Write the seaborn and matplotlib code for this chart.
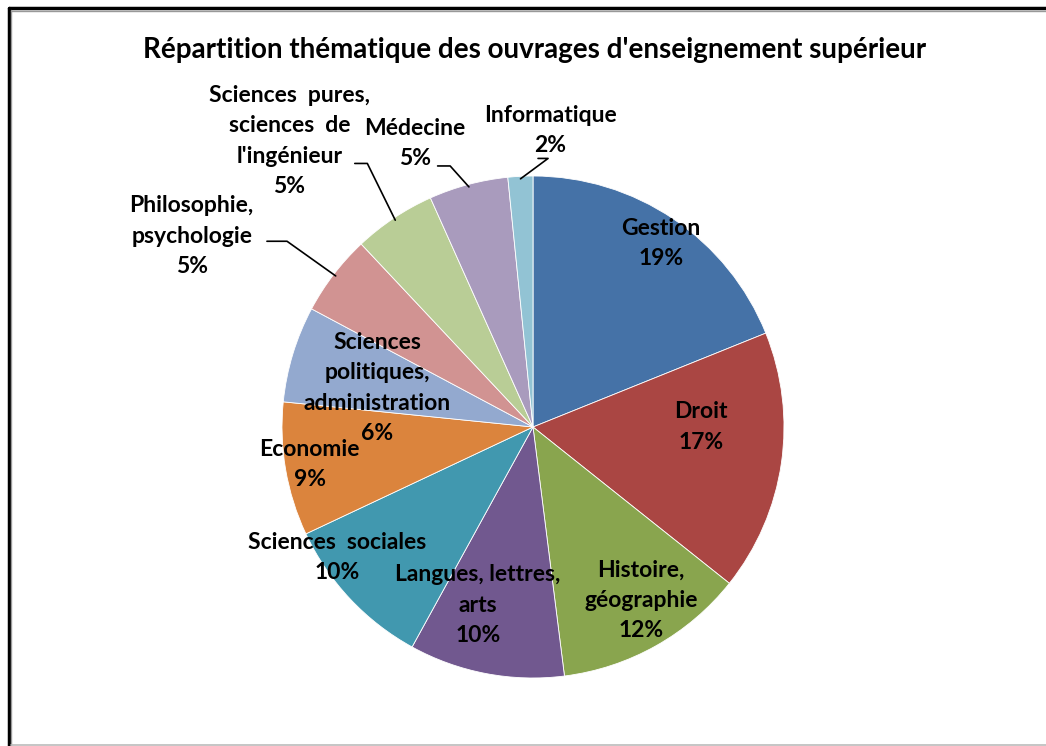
import numpy as np
import matplotlib
matplotlib.use("Agg")
import matplotlib.pyplot as plt
import seaborn as sns
from matplotlib.lines import Line2D

categories = ["Gestion", "Droit", "Histoire,\ngéographie", "Langues, lettres,\narts",
              "Sciences  sociales", "Economie", "Sciences\npolitiques,\nadministration",
              "Philosophie,\npsychologie", "Sciences  pures,\nsciences  de\nl'ingénieur",
              "Médecine", "Informatique"]
values = [18.9, 16.8, 12.3, 10.0, 10.0, 8.6, 6.2, 5.2, 5.3, 5.1, 1.6]
colors = ["#4572A7", "#AA4643", "#89A54E", "#71588F", "#4198AF", "#DB843D",
          "#93A9CF", "#D19392", "#B9CD96", "#A99BBD", "#92C3D4"]
title = "Répartition thématique des ouvrages d'enseignement supérieur"

# label anchor positions (pie radius = 1)
label_xy = [(0.51, 0.73), (0.67, 0.0), (0.43, -0.69), (-0.22, -0.71), (-0.78, -0.52),
            (-0.89, -0.15), (-0.62, 0.155), (-1.36, 0.76), (-0.97, 1.14),
            (-0.47, 1.13), (0.07, 1.18)]
outside = [False] * 7 + [True] * 4

sns.set_theme(style="white")
plt.rcParams['font.family'] = ['Lato', 'DejaVu Sans']

W, H = 1046, 746
cx, cy, R = 533, 427, 251
fig = plt.figure(figsize=(W / 100, H / 100), dpi=100)
ax = fig.add_axes([0, 0, 1, 1])

wedges, _ = ax.pie(values, colors=colors, startangle=90, counterclock=False,
                   radius=1, center=(0, 0), frame=True,
                   wedgeprops=dict(edgecolor="white", linewidth=0.6))
ax.set_xlim(-cx / R, (W - cx) / R)
ax.set_ylim((cy - H) / R, cy / R)
ax.axis("off")

for w, cat, v, (lx, ly), out in zip(wedges, categories, values, label_xy, outside):
    txt = "{}\n{:.0f}%".format(cat, v)
    ax.text(lx, ly, txt, ha="center", va="center", fontsize=16.5,
            fontweight="bold", color="black", linespacing=1.55)
    if out:
        mid = np.deg2rad((w.theta1 + w.theta2) / 2)
        ex, ey = 0.99 * np.cos(mid), 0.99 * np.sin(mid)
        # elbow leader line
        if cat.startswith("Philo"):
            pts = [(lx + 0.3, 0.74), (lx + 0.38, 0.74), (ex, ey)]
        elif cat.startswith("Sciences  pures"):
            pts = [(lx + 0.26, 1.05), (lx + 0.31, 1.05), (ex, ey)]
        elif cat.startswith("Médecine"):
            pts = [(lx + 0.09, 1.04), (lx + 0.14, 1.04), (ex, ey)]
        else:
            pts = [(lx - 0.05, 1.07), (lx - 0.01, 1.07), (ex, ey)]
        ax.plot([p[0] for p in pts], [p[1] for p in pts], color="black", lw=1.2)

fig.text(535 / W, 1 - 50 / H, title, ha="center", va="center",
         fontsize=20, fontweight="bold", color="black")

# chart frame
fig.add_artist(Line2D([8.5 / W, 8.5 / W], [0, 1 - 8 / H], color="black", lw=2.5,
                      transform=fig.transFigure))
fig.add_artist(Line2D([8.5 / W, 1], [1 - 8 / H, 1 - 8 / H], color="black", lw=2.5,
                      transform=fig.transFigure))
fig.add_artist(Line2D([11 / W, 11 / W], [1 / H, 1 - 10 / H], color="#999999", lw=1,
                      transform=fig.transFigure))
fig.add_artist(Line2D([11 / W, 1], [1 - 10.5 / H, 1 - 10.5 / H], color="#999999", lw=1,
                      transform=fig.transFigure))
fig.add_artist(Line2D([11 / W, 1], [1.2 / H, 1.2 / H], color="#bbbbbb", lw=1.2,
                      transform=fig.transFigure))

fig.savefig("out.png", dpi=100)
